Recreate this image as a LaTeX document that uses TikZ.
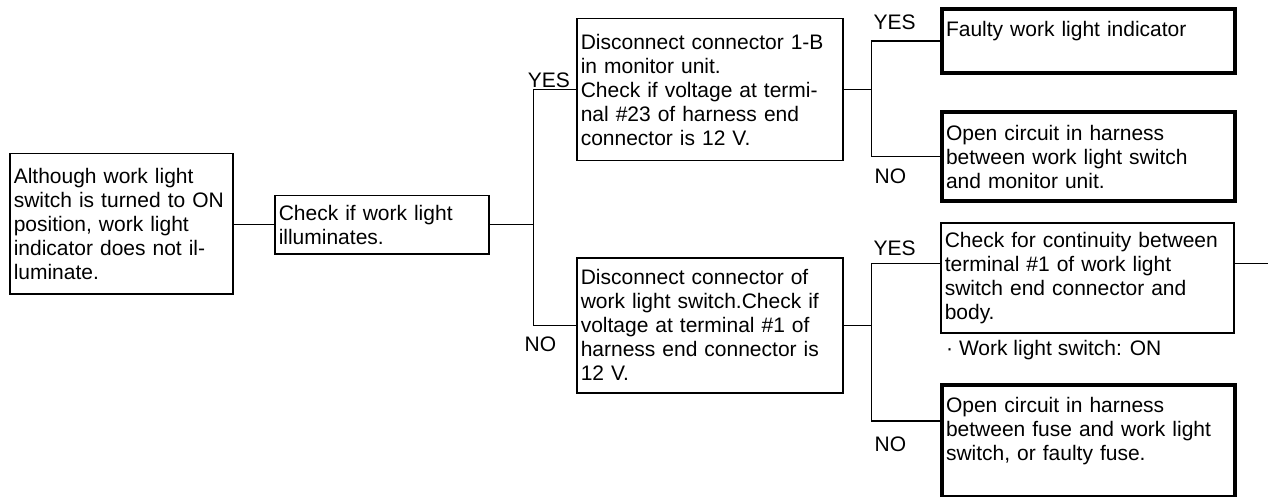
\documentclass[tikz,border=0pt]{standalone}
\usepackage{fontspec}
\setmainfont{Liberation Sans}
\usetikzlibrary{calc,positioning}
\newcommand{\fsz}{\fontsize{21pt}{24pt}\selectfont}
\tikzset{
  chk/.style={draw,line width=1.5pt,anchor=north west,align=left,
    inner xsep=4pt,inner ysep=0pt,font=\fsz},
  res/.style={chk,line width=4pt},
  yn/.style={font=\fsz,inner sep=0pt},
  ln/.style={line width=1.2pt}
}

\begin{document}
\begin{tikzpicture}[x=1pt,y=-1pt]
\useasboundingbox (0,0) rectangle (1268,497);
% boxes
\node[chk,text width=215pt,minimum height=140pt] (A) at (9,153)
  {Although work light\\switch is turned to ON\\position, work light\\indicator does not il-\\luminate.};
\node[chk,text width=206pt,minimum height=58pt] (B) at (274,195)
  {Check if work light\\illuminates.};
\node[chk,text width=258pt,minimum height=142pt] (C) at (576,18)
  {Disconnect connector 1-B\\in monitor unit.\\Check if voltage at termi-\\nal \#23 of harness end\\connector is 12 V.};
\node[chk,text width=258pt,minimum height=135pt] (F) at (576,257)
  {Disconnect connector of\\work light switch.Check if\\voltage at terminal \#1 of\\harness end connector is\\12 V.};
\node[res,text width=285pt,minimum height=64pt] (D) at (940,7)
  {Faulty work light indicator\\~};
\node[res,text width=285pt,minimum height=89pt] (E) at (940,110)
  {Open circuit in harness\\between work light switch\\and monitor unit.};
\node[chk,text width=285pt,minimum height=110pt] (G) at (940,222)
  {Check for continuity between\\terminal \#1 of work light\\switch end connector and\\body.};
\node[res,text width=285pt,minimum height=112pt] (H) at (940,383)
  {Open circuit in harness\\between fuse and work light\\switch, or faulty fuse.\\~};
\node[yn,anchor=north west] (note) at ([xshift=6pt,yshift=-7pt]G.south west)
  {· Work light switch: ON};

% connectors
\coordinate (j1) at ([xshift=44pt]B.east);
\coordinate (j2) at ([xshift=28pt]C.east);
\coordinate (j3) at ([xshift=28pt]F.east);
\coordinate (gout) at ([xshift=35pt,yshift=14pt]G.east);
\draw[ln] (B.west) -- (B.west -| A.east);
\draw[ln] (B.east) -- (j1);
\draw[ln] (C.west) -| (j1) |- (F.west);
\draw[ln] (C.east) -- (j2);
\draw[ln] (D.west) -| (j2) |- (E.west);
\draw[ln] (F.east) -- (j3);
\draw[ln] ([yshift=14pt]G.west) -| (j3) |- ([yshift=20pt]H.west);
\draw[ln] ([yshift=14pt]G.east) -- (gout);

% labels
\node[yn,anchor=south east] (y1) at ([xshift=-6pt,yshift=2pt]C.west) {YES};
\node[yn,anchor=north west] (n1) at ([xshift=-9pt,yshift=-11pt]j1 |- F.west) {NO};
\node[yn,anchor=south west] (y2) at ([xshift=2pt,yshift=11pt]j2 |- D.west) {YES};
\node[yn,anchor=north west] (n2) at ([xshift=3pt,yshift=-12pt]j2 |- E.west) {NO};
\node[yn,anchor=south west] (y3) at ([xshift=2pt,yshift=22pt]j3 |- G.west) {YES};
\node[yn,anchor=north west] (n3) at ([xshift=3pt,yshift=4pt]j3 |- H.west) {NO};
\end{tikzpicture}
\end{document}
